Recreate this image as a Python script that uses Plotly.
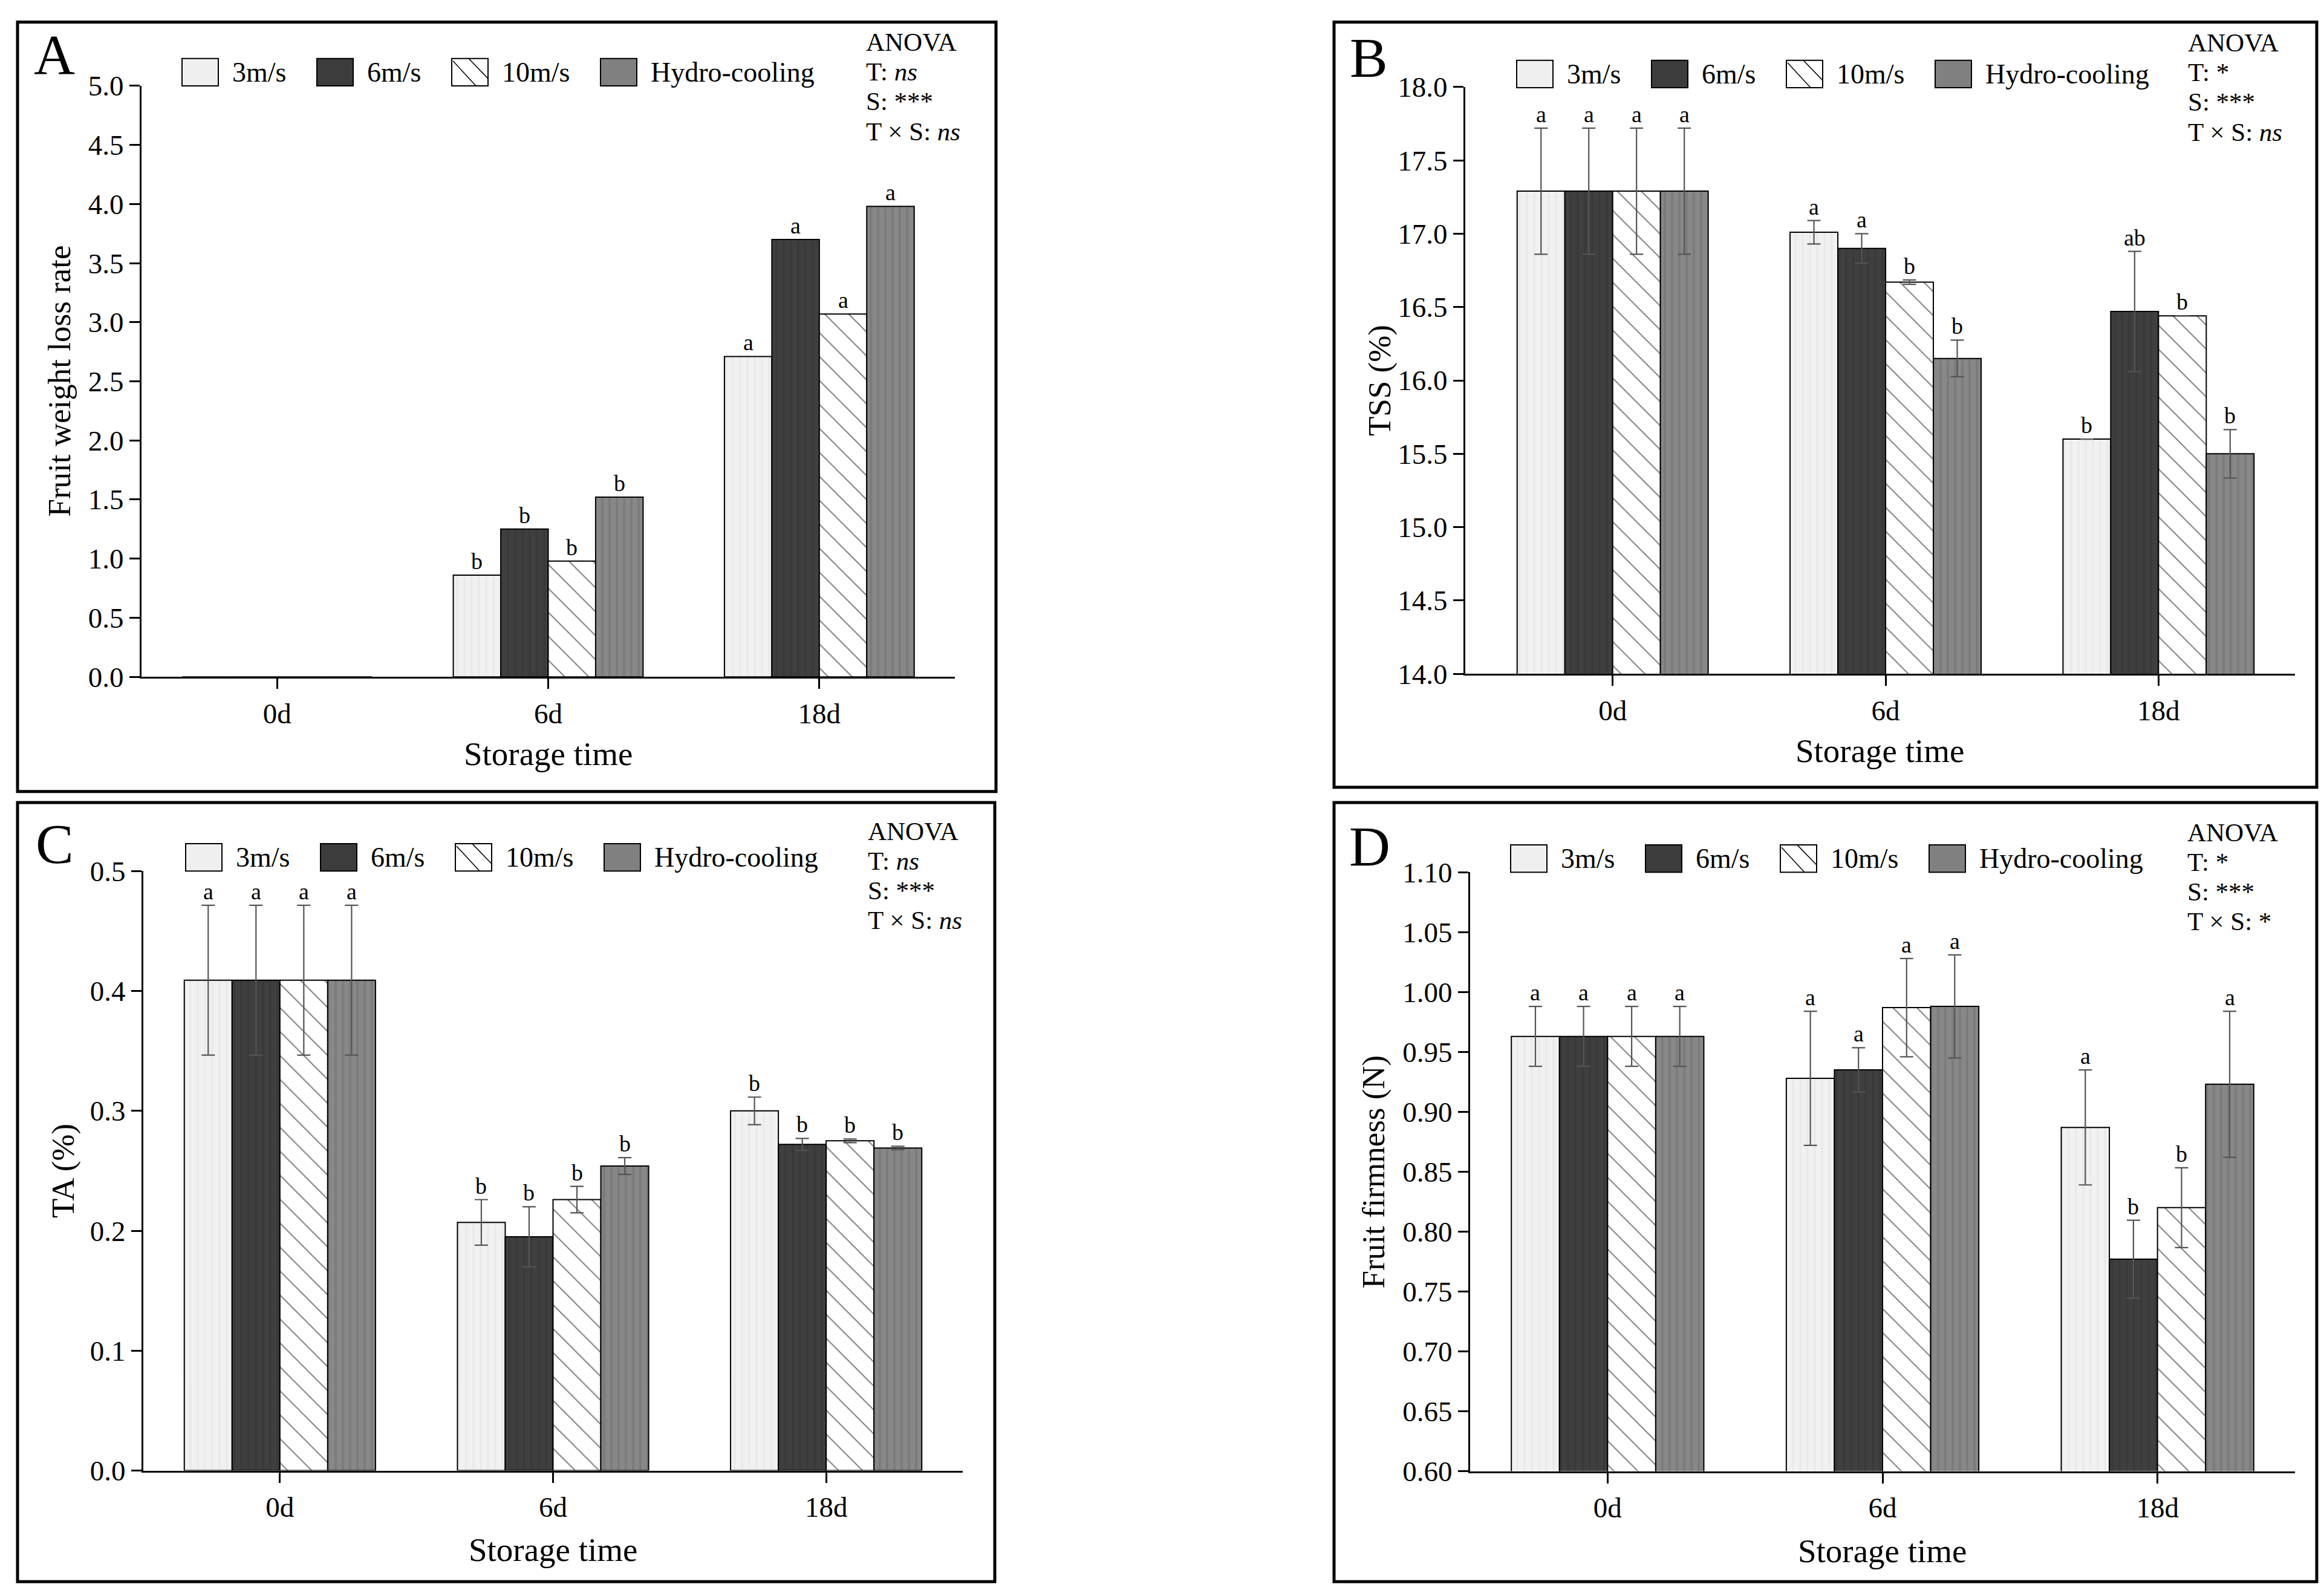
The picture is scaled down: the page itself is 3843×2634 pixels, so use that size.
import plotly.graph_objects as go

# ── Data ──────────────────────────────────────────────────
storage_time = ["0d", "6d", "18d"]
treatments = ["3m/s", "6m/s", "10m/s", "Hydro-cooling"]

# A : fruit weight loss rate (rows = treatments, cols = storage time)
loss_mean = [
    [0.00, 0.86, 2.71],
    [0.00, 1.25, 3.70],
    [0.00, 0.98, 3.07],
    [0.00, 1.52, 3.98],
]
loss_letters = [["", "b", "a"], ["", "b", "a"], ["", "b", "a"], ["", "b", "a"]]

# B : TSS (%)
tss_mean = [
    [17.29, 17.01, 15.60],
    [17.29, 16.90, 16.47],
    [17.29, 16.67, 16.44],
    [17.29, 16.15, 15.50],
]
tss_err = [
    [0.43, 0.08, 0.0],
    [0.43, 0.10, 0.41],
    [0.43, 0.015, 0.0],
    [0.43, 0.125, 0.165],
]
tss_letters = [["a", "a", "b"], ["a", "a", "ab"], ["a", "b", "b"], ["a", "b", "b"]]

# C : TA (%)
ta_mean = [
    [0.409, 0.207, 0.300],
    [0.409, 0.195, 0.272],
    [0.409, 0.226, 0.275],
    [0.409, 0.254, 0.269],
]
ta_err = [
    [0.0625, 0.019, 0.0115],
    [0.0625, 0.025, 0.005],
    [0.0625, 0.011, 0.0015],
    [0.0625, 0.007, 0.0015],
]
ta_letters = [["a", "b", "b"], ["a", "b", "b"], ["a", "b", "b"], ["a", "b", "b"]]

# D : fruit firmness (N)
firm_mean = [
    [0.963, 0.928, 0.887],
    [0.963, 0.935, 0.777],
    [0.963, 0.987, 0.820],
    [0.963, 0.988, 0.923],
]
firm_err = [
    [0.025, 0.056, 0.048],
    [0.025, 0.0185, 0.0325],
    [0.025, 0.041, 0.0333],
    [0.025, 0.043, 0.061],
]
firm_letters = [["a", "a", "a"], ["a", "a", "b"], ["a", "a", "b"], ["a", "a", "a"]]

anova_A = ["ANOVA", "T: <i>ns</i>", "S: ***", "T × S: <i>ns</i>"]
anova_B = ["ANOVA", "T: *", "S: ***", "T × S: <i>ns</i>"]
anova_C = ["ANOVA", "T: <i>ns</i>", "S: ***", "T × S: <i>ns</i>"]
anova_D = ["ANOVA", "T: *", "S: ***", "T × S: *"]

# ── Styles ────────────────────────────────────────────────
PAD_X = 8                           # html body margin
W = 3843 - 2 * PAD_X
H = 2645
Y_SCALE, Y_OFF = 1.0235, 36.3       # layout pixel -> figure pixel (vertical)
FONT = "Liberation Serif"
BARGAP = 0.3

bar_styles = [
    dict(color="#efefef", pattern=dict(shape="|", fgcolor="#e2e2e2", bgcolor="#f1f1f1", size=12, solidity=0.3)),
    dict(color="#3c3c3c", pattern=dict(shape="|", fgcolor="#333333", bgcolor="#3f3f3f", size=12, solidity=0.3)),
    dict(color="#ffffff", pattern=dict(shape="\\", fgcolor="#000000", bgcolor="#ffffff", size=28, solidity=0.07)),
    dict(color="#808080", pattern=dict(shape="|", fgcolor="#707070", bgcolor="#888888", size=12, solidity=0.35)),
]


# layout pixel -> paper fraction
def fx(x):
    return (x - PAD_X) / W


def fy(y):
    return 1 - (Y_SCALE * y - Y_OFF) / H


panels = [
    dict(tag="A", n="", frame=(29, 38, 1647, 1306), plot=(234, 143, 1579, 1117),
         yrange=[0, 5], dtick=0.5, fmt=".1f", ytitle="Fruit weight loss rate",
         mean=loss_mean, err=None, letters=loss_letters, anova=anova_A,
         xrange=[-0.5, 2.5], tag_xy=(90, 91), leg=(301, 98), anova_xy=(1430, 71),
         ytitle_x=98, xtitle_y=1244),
    dict(tag="B", n="2", frame=(2206, 38, 3831, 1299), plot=(2423, 145, 3795, 1112),
         yrange=[14, 18], dtick=0.5, fmt=".1f", ytitle="TSS (%)",
         mean=tss_mean, err=tss_err, letters=tss_letters, anova=anova_B,
         xrange=[-0.54, 2.5], tag_xy=(2263, 96), leg=(2508, 101), anova_xy=(3616, 72),
         ytitle_x=2281, xtitle_y=1239),
    dict(tag="C", n="3", frame=(29, 1324, 1645, 2608), plot=(237, 1437, 1592, 2425),
         yrange=[0, 0.5], dtick=0.1, fmt=".1f", ytitle="TA (%)",
         mean=ta_mean, err=ta_err, letters=ta_letters, anova=anova_C,
         xrange=[-0.5, 2.5], tag_xy=(90, 1392), leg=(307, 1392), anova_xy=(1433, 1371),
         ytitle_x=105, xtitle_y=2555),
    dict(tag="D", n="4", frame=(2206, 1324, 3831, 2608), plot=(2431, 1439, 3795, 2426),
         yrange=[0.6, 1.1], dtick=0.05, fmt=".2f", ytitle="Fruit firmness (N)",
         mean=firm_mean, err=firm_err, letters=firm_letters, anova=anova_D,
         xrange=[-0.5, 2.5], tag_xy=(2265, 1396), leg=(2498, 1394), anova_xy=(3615, 1373),
         ytitle_x=2271, xtitle_y=2557),
]

fig = go.Figure()
shapes = []
annotations = []
layout_axes = {}

bar_w = (1 - BARGAP) / len(treatments)
leg_offsets = [0, 223, 446, 692]


def paper_text(x, y, text, size, xanchor="center", **kw):
    return dict(x=fx(x), y=fy(y), xref="paper", yref="paper", text=text,
                showarrow=False, xanchor=xanchor, yanchor="middle",
                font=dict(family=FONT, size=size, color="#000000"), **kw)


for p in panels:
    xa, ya = "x" + p["n"], "y" + p["n"]
    x0, y0, x1, y1 = p["plot"]

    # ── bars ──
    for j, name in enumerate(treatments):
        st = bar_styles[j]
        err = None
        if p["err"] is not None:
            err = dict(type="data", array=p["err"][j], visible=True,
                       color="#555555", thickness=2.2, width=11)
        fig.add_trace(go.Bar(
            x=storage_time, y=p["mean"][j], name=name, xaxis=xa, yaxis=ya,
            marker=dict(color=st["color"], pattern=st["pattern"],
                        line=dict(color="#000000", width=2)),
            error_y=err, showlegend=False,
        ))
        # significance letters
        for i, letter in enumerate(p["letters"][j]):
            if not letter:
                continue
            top = p["mean"][j][i] + (p["err"][j][i] if p["err"] is not None else 0)
            annotations.append(dict(
                x=i + (j - 1.5) * bar_w, y=top, xref=xa, yref=ya,
                text=letter, showarrow=False, xanchor="center", yanchor="bottom",
                yshift=0, font=dict(family=FONT, size=38, color="#000000"),
            ))

    # ── axes ──
    axis_common = dict(showline=True, linecolor="#000000", linewidth=3,
                       ticks="outside", ticklen=17, tickwidth=3, tickcolor="#000000",
                       showgrid=False, zeroline=False,
                       tickfont=dict(family=FONT, size=47, color="#000000"))
    layout_axes["xaxis" + p["n"]] = dict(
        axis_common, domain=[fx(x0), fx(x1)], anchor=ya, type="category",
        range=p["xrange"])
    layout_axes["yaxis" + p["n"]] = dict(
        axis_common, domain=[fy(y1), fy(y0)], anchor=xa, range=p["yrange"],
        dtick=p["dtick"], tick0=p["yrange"][0], tickformat=p["fmt"])

    # ── axis titles ──
    annotations.append(paper_text(p["ytitle_x"], (y0 + y1) / 2, p["ytitle"], 53, textangle=-90))
    annotations.append(paper_text((x0 + x1) / 2, p["xtitle_y"], "Storage time", 55))

    # ── panel frame & tag ──
    fx0, fy0, fx1, fy1 = p["frame"]
    shapes.append(dict(type="rect", xref="paper", yref="paper",
                       x0=fx(fx0), x1=fx(fx1), y0=fy(fy1), y1=fy(fy0),
                       line=dict(color="#000000", width=5)))
    annotations.append(paper_text(p["tag_xy"][0], p["tag_xy"][1], p["tag"], 94))

    # ── legend (drawn per panel) ──
    lx, ly = p["leg"]
    bw, bh = 60, 45
    for j, name in enumerate(treatments):
        bx = lx + leg_offsets[j]
        shapes.append(dict(type="rect", xref="paper", yref="paper",
                           x0=fx(bx), x1=fx(bx + bw), y0=fy(ly + bh), y1=fy(ly),
                           fillcolor=bar_styles[j]["color"],
                           line=dict(color="#000000", width=2)))
        if j == 2:
            path = "M {} {} L {} {} M {} {} L {} {}".format(
                fx(bx + 2), fy(ly + 4), fx(bx + 40), fy(ly + bh),
                fx(bx + 28), fy(ly), fx(bx + bw), fy(ly + 33))
            shapes.append(dict(type="path", xref="paper", yref="paper", path=path,
                               line=dict(color="#000000", width=1.5)))
        annotations.append(paper_text(bx + bw + 21, ly + bh / 2, name, 46, xanchor="left"))

    # ── ANOVA box ──
    ax_, ay_ = p["anova_xy"]
    for k, line in enumerate(p["anova"]):
        annotations.append(paper_text(ax_, ay_ + 49 * k, line, 43, xanchor="left"))

fig.update_layout(
    width=W, height=H,
    margin=dict(l=0, r=0, t=0, b=0),
    paper_bgcolor="#ffffff", plot_bgcolor="#ffffff",
    barmode="group", bargap=BARGAP, bargroupgap=0,
    showlegend=False,
    shapes=shapes, annotations=annotations,
    **layout_axes,
)

fig.write_html("out.html")
